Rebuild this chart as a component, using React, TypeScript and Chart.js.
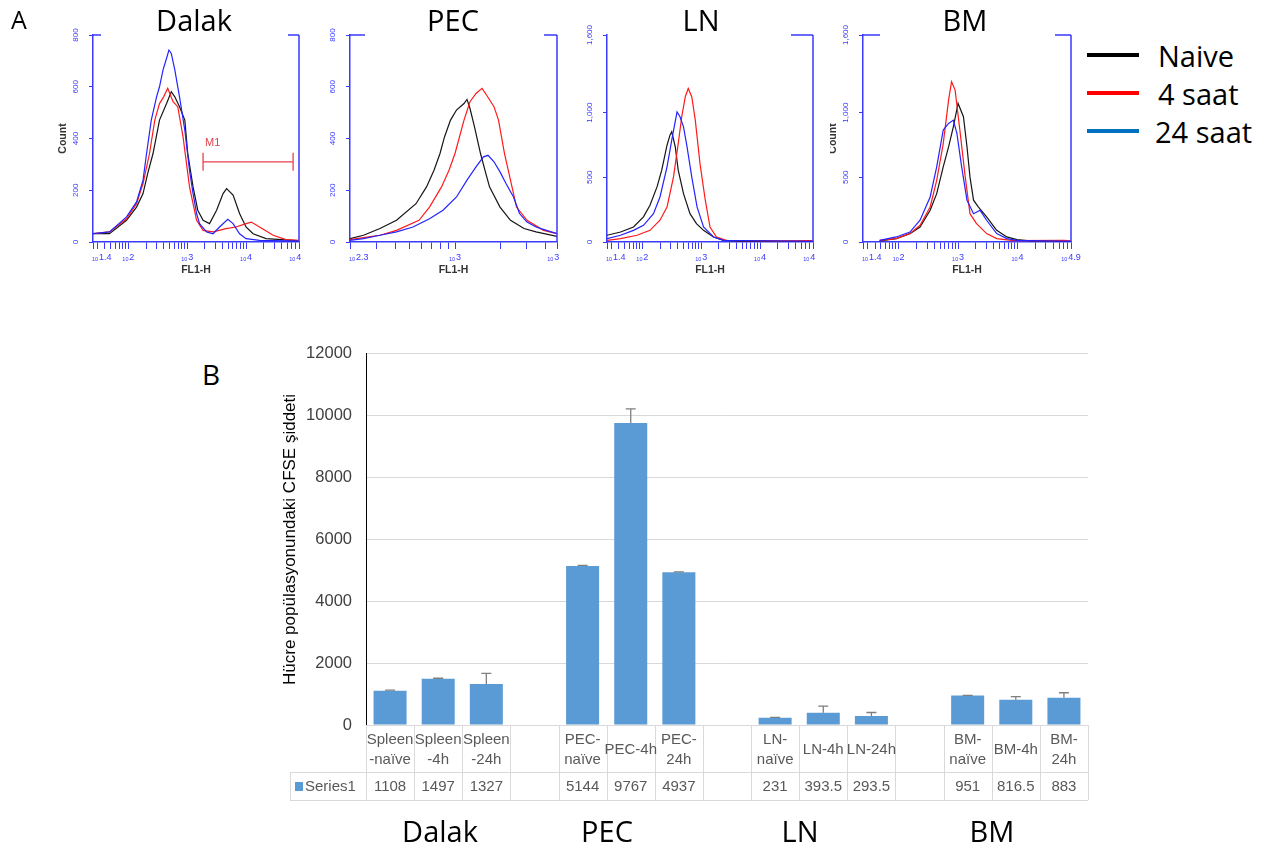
import React, { useEffect, useRef } from "react";
import { Chart, registerables } from "chart.js";

Chart.register(...registerables);

type Pt = [number, number];

// ---------- Panel A: histograms (x = log10 FL1-H, y = count) ----------
const dalakNaive: Pt[] = [[1.40,32],[1.68,32],[1.97,84],[2.14,135],[2.25,187],[2.33,265],[2.42,342],[2.53,471],[2.65,535],[2.73,581],[2.79,561],[2.87,523],[2.96,471],[3.01,342],[3.10,213],[3.18,123],[3.27,84],[3.38,71],[3.50,123],[3.61,187],[3.67,206],[3.78,181],[3.89,110],[4.00,58],[4.12,32],[4.34,13],[4.80,6],[4.90,4]];
const dalak4h: Pt[] = [[1.40,32],[1.68,39],[1.97,90],[2.14,148],[2.25,226],[2.36,342],[2.45,471],[2.53,535],[2.60,561],[2.67,594],[2.76,542],[2.84,523],[2.93,406],[3.04,213],[3.16,84],[3.27,45],[3.44,39],[3.66,52],[3.83,58],[4.00,71],[4.09,77],[4.23,58],[4.46,26],[4.68,9],[4.90,6]];
const dalak24h: Pt[] = [[1.40,32],[1.68,39],[1.97,97],[2.14,155],[2.25,239],[2.31,342],[2.39,471],[2.48,561],[2.53,600],[2.59,665],[2.65,710],[2.69,742],[2.73,729],[2.79,665],[2.87,561],[2.96,432],[3.04,277],[3.10,187],[3.16,110],[3.21,71],[3.33,39],[3.44,32],[3.55,58],[3.69,88],[3.78,71],[3.89,32],[4.00,13],[4.23,6],[4.90,3]];
const dalakM1 = [3.27, 4.80, 310];

const pecNaive: Pt[] = [[2.30,13],[2.39,26],[2.50,52],[2.61,84],[2.74,148],[2.81,213],[2.86,277],[2.90,342],[2.93,406],[2.97,471],[3.01,510],[3.06,535],[3.08,551],[3.10,516],[3.13,445],[3.17,342],[3.20,277],[3.23,213],[3.30,135],[3.37,84],[3.46,52],[3.54,39],[3.68,22]];
const pec4h: Pt[] = [[2.30,9],[2.39,17],[2.50,26],[2.61,45],[2.76,84],[2.83,135],[2.91,213],[2.96,277],[3.00,342],[3.06,471],[3.10,542],[3.14,574],[3.18,594],[3.21,568],[3.26,523],[3.29,471],[3.33,342],[3.38,213],[3.41,135],[3.48,84],[3.59,45],[3.68,32]];
const pec24h: Pt[] = [[2.30,6],[2.39,13],[2.50,26],[2.61,39],[2.72,58],[2.83,90],[2.92,123],[3.01,174],[3.08,239],[3.14,290],[3.19,329],[3.22,335],[3.26,310],[3.30,271],[3.34,226],[3.39,174],[3.43,110],[3.48,77],[3.54,58],[3.61,45],[3.68,32]];

const lnNaive: Pt[] = [[1.40,52],[1.63,77],[1.85,116],[2.02,194],[2.13,284],[2.25,426],[2.33,555],[2.42,748],[2.47,826],[2.50,852],[2.56,735],[2.61,555],[2.70,374],[2.81,219],[2.92,142],[3.04,90],[3.21,39],[3.38,13],[3.77,5],[4.90,5]];
const ln4h: Pt[] = [[1.40,13],[1.63,26],[1.91,52],[2.13,90],[2.30,168],[2.42,271],[2.53,503],[2.61,761],[2.67,968],[2.73,1123],[2.78,1187],[2.84,1123],[2.90,942],[2.98,606],[3.07,323],[3.15,116],[3.26,39],[3.43,13],[4.34,8],[4.90,10]];
const ln24h: Pt[] = [[1.40,26],[1.63,52],[1.85,90],[2.02,129],[2.19,219],[2.30,348],[2.42,581],[2.50,787],[2.59,1006],[2.64,968],[2.70,890],[2.76,735],[2.84,503],[2.93,271],[3.04,116],[3.21,39],[3.38,13],[4.90,5]];

const bmNaive: Pt[] = [[1.68,8],[1.96,26],[2.19,65],[2.36,116],[2.53,245],[2.64,374],[2.75,581],[2.84,735],[2.92,890],[3.00,1071],[3.09,968],[3.15,735],[3.20,503],[3.26,323],[3.34,271],[3.48,194],[3.65,90],[3.82,39],[3.99,18],[4.21,8],[4.90,5]];
const bm4h: Pt[] = [[1.68,13],[1.96,26],[2.19,65],[2.36,129],[2.53,271],[2.64,477],[2.75,761],[2.84,1097],[2.89,1239],[2.95,1174],[3.03,865],[3.12,503],[3.20,219],[3.31,142],[3.48,65],[3.65,26],[3.93,10],[4.78,13],[4.90,8]];
const bm24h: Pt[] = [[1.68,13],[1.96,39],[2.19,77],[2.36,168],[2.53,348],[2.64,581],[2.75,865],[2.84,916],[2.92,942],[2.98,839],[3.06,581],[3.15,323],[3.26,219],[3.37,245],[3.48,168],[3.65,65],[3.82,26],[3.99,13],[4.90,5]];

const histTitles = ["Dalak", "PEC", "LN", "BM"];
const countTicksSmall = [0, 200, 400, 600, 800];
const countLabelsSmall = ["0", "200", "400", "600", "800"];
const countTicksLarge = [0, 500, 1000, 1600];
const countLabelsLarge = ["0", "500", "1,000", "1,600"];
const wideXLabels: [number, string][] = [[1.4, "1.4"], [2, "2"], [3, "3"], [4, "4"], [4.9, "4.9"]];
const pecXLabels: [number, string][] = [[2.3, "2.3"], [3, "3"], [3.68, "3.7"]];

const legendLabels = ["Naive", "4 saat", "24 saat"];
const legendColors = ["#000000", "#ff0000", "#0070c0"];
const curveColors = ["#151515", "#ff1a1a", "#2323ff"]; // naive, 4h, 24h

// ---------- Panel B: bar chart ----------
const barCategories: string[][] = [
  ["Spleen", "-naïve"], ["Spleen", "-4h"], ["Spleen", "-24h"], [""],
  ["PEC-", "naïve"], ["PEC-4h"], ["PEC-", "24h"], [""],
  ["LN-", "naïve"], ["LN-4h"], ["LN-24h"], [""],
  ["BM-", "naïve"], ["BM-4h"], ["BM-", "24h"],
];
const barValues: (number | null)[] = [1108, 1497, 1327, null, 5144, 9767, 4937, null, 231, 393.5, 293.5, null, 951, 816.5, 883];
const barErrors: (number | null)[] = [20, 15, 340, null, 20, 455, 15, null, 15, 220, 110, null, 10, 100, 160];
const barValueLabels = ["1108", "1497", "1327", "", "5144", "9767", "4937", "", "231", "393.5", "293.5", "", "951", "816.5", "883"];
const seriesName = "Series1";
const yAxisTitle = "Hücre popülasyonundaki CFSE şiddeti";
const groupLabels = ["Dalak", "PEC", "LN", "BM"];

const AXIS_BLUE = "#3a3aff";
const SANS = '"Liberation Sans", Arial, sans-serif';
const OPEN = '"Open Sans", "Liberation Sans", sans-serif';
const BAR_BLUE = "#5b9bd5";

const H_CANVAS = 285;
const PLOT_TOP = 35;
const PLOT_BOTTOM = 242;

function logTicks(min: number, max: number): number[] {
  const out = [min];
  for (let n = 1; n <= 4; n++) {
    for (let k = 1; k <= 9; k++) {
      const v = n + Math.log10(k);
      if (v > min + 0.01 && v < max - 0.01) out.push(v);
    }
  }
  out.push(max);
  return out;
}

interface HistProps {
  left: number;
  width: number;
  plotLeft: number;
  plotRight: number;
  xMin: number;
  xMax: number;
  xLabels: [number, string][];
  yMax: number;
  yTicks: number[];
  yLabels: string[];
  series: Pt[][]; // naive, 4h, 24h
  topLeft: number;
  topRight: number;
  marker?: number[];
}

function Histogram(p: HistProps) {
  const ref = useRef<HTMLCanvasElement>(null);
  useEffect(() => {
    const canvas = ref.current!;
    const deco = {
      id: "histDeco",
      afterDraw(chart: any) {
        const { ctx, chartArea: ca, scales } = chart;
        const x = scales.x;
        const y = scales.y;
        ctx.save();
        ctx.strokeStyle = AXIS_BLUE;
        ctx.lineWidth = 1.5;
        ctx.beginPath();
        ctx.moveTo(ca.right, ca.top);
        ctx.lineTo(ca.right, ca.bottom);
        if (p.topLeft > 0) {
          ctx.moveTo(ca.left, ca.top);
          ctx.lineTo(ca.left + p.topLeft, ca.top);
        }
        ctx.moveTo(ca.right - p.topRight, ca.top);
        ctx.lineTo(ca.right, ca.top);
        ctx.stroke();

        // y tick labels (rotated)
        ctx.fillStyle = AXIS_BLUE;
        ctx.font = `8px ${SANS}`;
        ctx.textAlign = "center";
        ctx.textBaseline = "middle";
        p.yTicks.forEach((v, i) => {
          const py = y.getPixelForValue(v);
          ctx.save();
          ctx.translate(ca.left - 17.5, py);
          ctx.rotate(-Math.PI / 2);
          ctx.fillText(p.yLabels[i], 0, 0);
          ctx.restore();
        });

        // x tick labels 10^e
        ctx.textAlign = "left";
        ctx.textBaseline = "alphabetic";
        const baseY = ca.bottom + 18;
        p.xLabels.forEach(([v, e], i) => {
          const px = x.getPixelForValue(v);
          ctx.font = `5.5px ${SANS}`;
          const w10 = ctx.measureText("10").width;
          ctx.font = `9px ${SANS}`;
          const we = ctx.measureText(e).width;
          const total = w10 + 0.8 + we;
          const start = i === 0 ? px - 1 : px - total / 2;
          ctx.font = `5.5px ${SANS}`;
          ctx.fillText("10", start, baseY + 1);
          ctx.font = `9px ${SANS}`;
          ctx.fillText(e, start + w10 + 0.8, baseY);
        });

        // axis titles
        ctx.fillStyle = "#333333";
        ctx.font = `bold 10.5px ${SANS}`;
        ctx.textAlign = "center";
        ctx.textBaseline = "middle";
        ctx.fillText("FL1-H", (ca.left + ca.right) / 2, ca.bottom + 28);
        ctx.save();
        ctx.translate(ca.left - 30, (ca.top + ca.bottom) / 2);
        ctx.rotate(-Math.PI / 2);
        ctx.fillText("Count", 0, 0);
        ctx.restore();

        // marker M1
        if (p.marker) {
          const [a, b, c] = p.marker;
          const xa = x.getPixelForValue(a);
          const xb = x.getPixelForValue(b);
          const yc = y.getPixelForValue(c);
          ctx.strokeStyle = "#e8404f";
          ctx.lineWidth = 1.3;
          ctx.beginPath();
          ctx.moveTo(xa, yc);
          ctx.lineTo(xb, yc);
          ctx.moveTo(xa, yc - 9);
          ctx.lineTo(xa, yc + 9);
          ctx.moveTo(xb, yc - 9);
          ctx.lineTo(xb, yc + 9);
          ctx.stroke();
          ctx.fillStyle = "#e8404f";
          ctx.font = `11px ${SANS}`;
          ctx.textAlign = "left";
          ctx.textBaseline = "alphabetic";
          ctx.fillText("M1", xa + 2, yc - 16);
        }
        ctx.restore();
      },
    };

    const order = [2, 1, 0];
    const chart = new Chart(canvas, {
      type: "line",
      data: {
        datasets: order.map((i) => ({
          data: p.series[i].map(([xx, yy]) => ({ x: xx, y: yy })),
          borderColor: curveColors[i],
          borderWidth: 1.2,
          pointRadius: 0,
          tension: 0,
          fill: false,
        })),
      },
      options: {
        responsive: false,
        animation: false,
        events: [],
        layout: { padding: { top: PLOT_TOP, right: p.left + p.width - p.plotRight, left: 0, bottom: 0 } },
        plugins: { legend: { display: false }, tooltip: { enabled: false } },
        scales: {
          x: {
            type: "linear",
            min: p.xMin,
            max: p.xMax,
            afterBuildTicks: (s: any) => {
              s.ticks = logTicks(p.xMin, p.xMax).map((v) => ({ value: v }));
            },
            afterFit: (s: any) => {
              s.height = H_CANVAS - PLOT_BOTTOM;
            },
            ticks: { display: false },
            grid: { display: true, drawOnChartArea: false, drawTicks: true, tickLength: 7, color: AXIS_BLUE, lineWidth: 1 },
            border: { display: true, color: AXIS_BLUE, width: 1.5 },
          },
          y: {
            type: "linear",
            min: 0,
            max: p.yMax,
            afterBuildTicks: (s: any) => {
              s.ticks = p.yTicks.map((v) => ({ value: v }));
            },
            afterFit: (s: any) => {
              s.width = p.plotLeft - p.left;
            },
            ticks: { display: false },
            grid: { display: true, drawOnChartArea: false, drawTicks: true, tickLength: 4, color: AXIS_BLUE, lineWidth: 1 },
            border: { display: true, color: AXIS_BLUE, width: 1.5 },
          },
        },
      } as any,
      plugins: [deco],
    });
    return () => chart.destroy();
  }, []);
  return (
    <canvas
      ref={ref}
      width={p.width}
      height={H_CANVAS}
      style={{ position: "absolute", left: p.left, top: 0, width: p.width, height: H_CANVAS }}
    />
  );
}

function BarPanel() {
  const ref = useRef<HTMLCanvasElement>(null);
  useEffect(() => {
    const canvas = ref.current!;
    const deco = {
      id: "barDeco",
      afterDatasetsDraw(chart: any) {
        const { ctx, scales } = chart;
        const x = scales.x;
        const y = scales.y;
        ctx.save();
        ctx.strokeStyle = "#7f7f7f";
        ctx.lineWidth = 1.3;
        barValues.forEach((v, i) => {
          const e = barErrors[i];
          if (v == null || e == null) return;
          const px = x.getPixelForValue(i);
          const y0 = y.getPixelForValue(v);
          const y1 = y.getPixelForValue(v + e);
          ctx.beginPath();
          ctx.moveTo(px, y0);
          ctx.lineTo(px, y1);
          ctx.moveTo(px - 5, y1);
          ctx.lineTo(px + 5, y1);
          ctx.stroke();
        });
        ctx.restore();
      },
      afterDraw(chart: any) {
        const { ctx, chartArea: ca, scales } = chart;
        const x = scales.x;
        const n = barCategories.length;
        const step = (ca.right - ca.left) / n;
        const r1Top = ca.bottom;
        const r1Bot = ca.bottom + 47;
        const r2Bot = ca.bottom + 75;
        const legLeft = ca.left - 76;
        ctx.save();
        ctx.strokeStyle = "#d9d9d9";
        ctx.lineWidth = 1;
        ctx.beginPath();
        for (let i = 0; i <= n; i++) {
          const xx = Math.round(ca.left + i * step) + 0.5;
          ctx.moveTo(xx, r1Top);
          ctx.lineTo(xx, r2Bot);
        }
        ctx.moveTo(legLeft + 0.5, r1Bot);
        ctx.lineTo(legLeft + 0.5, r2Bot);
        ctx.moveTo(legLeft, r1Bot + 0.5);
        ctx.lineTo(ca.right, r1Bot + 0.5);
        ctx.moveTo(legLeft, r2Bot + 0.5);
        ctx.lineTo(ca.right, r2Bot + 0.5);
        ctx.stroke();

        ctx.fillStyle = "#595959";
        ctx.font = `15px ${SANS}`;
        ctx.textAlign = "center";
        ctx.textBaseline = "middle";
        barCategories.forEach((lines, i) => {
          const px = x.getPixelForValue(i);
          if (lines.length === 2) {
            ctx.fillText(lines[0], px, r1Top + 15);
            ctx.fillText(lines[1], px, r1Top + 35);
          } else {
            ctx.fillText(lines[0], px, r1Top + 25);
          }
          ctx.fillText(barValueLabels[i], px, r1Bot + 15);
        });
        ctx.fillStyle = BAR_BLUE;
        ctx.fillRect(legLeft + 5, r1Bot + 10, 8, 9);
        ctx.fillStyle = "#595959";
        ctx.textAlign = "left";
        ctx.fillText(seriesName, legLeft + 15, r1Bot + 15);
        ctx.restore();
      },
    };

    const chart = new Chart(canvas, {
      type: "bar",
      data: {
        labels: barCategories,
        datasets: [
          {
            data: barValues,
            backgroundColor: BAR_BLUE,
            borderWidth: 0,
            barPercentage: 0.686,
            categoryPercentage: 1,
          },
        ],
      },
      options: {
        responsive: false,
        animation: false,
        events: [],
        layout: { padding: { top: 19, right: 12, left: 0, bottom: 0 } },
        plugins: { legend: { display: false }, tooltip: { enabled: false } },
        scales: {
          x: {
            type: "category",
            ticks: { display: false },
            grid: { display: false },
            border: { display: true, color: "#d9d9d9", width: 1 },
            afterFit: (s: any) => {
              s.height = 124;
            },
          },
          y: {
            min: 0,
            max: 12000,
            ticks: {
              stepSize: 2000,
              color: "#404040",
              font: { family: SANS, size: 16.5 },
              padding: 14,
              callback: (v: any) => String(v),
            },
            grid: { color: "#d9d9d9", lineWidth: 1, drawTicks: false },
            border: { display: true, color: "#000000", width: 1 },
            title: {
              display: true,
              text: yAxisTitle,
              color: "#000000",
              font: { family: SANS, size: 17 },
              padding: 0,
            },
            afterFit: (s: any) => {
              s.width = 86;
            },
          },
        },
      } as any,
      plugins: [deco],
    });
    return () => chart.destroy();
  }, []);
  return (
    <canvas
      ref={ref}
      width={820}
      height={519}
      style={{ position: "absolute", left: 280, top: 330, width: 820, height: 519 }}
    />
  );
}

function Label(props: { text: string; cx: number; cy: number; size: number; left?: boolean }) {
  return (
    <div
      style={{
        position: "absolute",
        left: props.cx,
        top: props.cy,
        transform: props.left ? "translate(0,-50%)" : "translate(-50%,-50%)",
        fontFamily: OPEN,
        fontSize: props.size,
        lineHeight: 1,
        whiteSpace: "nowrap",
        color: "#000",
      }}
    >
      {props.text}
    </div>
  );
}

export default function App() {
  const titleX = [194, 453, 701, 965];
  const legendY = [55, 93, 131];
  const groupX = [440, 607, 800, 992];
  return (
    <div style={{ position: "absolute", left: 0, top: 0, width: 1275, height: 849, background: "#fff", overflow: "hidden" }}>
      <Histogram left={40} width={262} plotLeft={93} plotRight={299} xMin={1.4} xMax={4.9} xLabels={wideXLabels}
        yMax={800} yTicks={countTicksSmall} yLabels={countLabelsSmall} series={[dalakNaive, dalak4h, dalak24h]}
        topLeft={8} topRight={11} marker={dalakM1} />
      <Histogram left={330} width={230} plotLeft={350} plotRight={557} xMin={2.3} xMax={3.68} xLabels={pecXLabels}
        yMax={800} yTicks={countTicksSmall} yLabels={countLabelsSmall} series={[pecNaive, pec4h, pec24h]}
        topLeft={15} topRight={13} />
      <Histogram left={580} width={236} plotLeft={607} plotRight={813} xMin={1.4} xMax={4.9} xLabels={wideXLabels}
        yMax={1600} yTicks={countTicksLarge} yLabels={countLabelsLarge} series={[lnNaive, ln4h, ln24h]}
        topLeft={0} topRight={22} />
      <Histogram left={830} width={255} plotLeft={863} plotRight={1071} xMin={1.4} xMax={4.9} xLabels={wideXLabels}
        yMax={1600} yTicks={countTicksLarge} yLabels={countLabelsLarge} series={[bmNaive, bm4h, bm24h]}
        topLeft={17} topRight={16} />
      {histTitles.map((t, i) => (
        <Label key={t} text={t} cx={titleX[i]} cy={19} size={29} />
      ))}
      <Label text="A" cx={19} cy={19} size={25} />
      {legendLabels.map((t, i) => (
        <React.Fragment key={t}>
          <div style={{ position: "absolute", left: 1087, top: legendY[i] - 2, width: 52, height: 4, background: legendColors[i] }} />
          <Label text={t} cx={i === 2 ? 1155 : 1158} cy={legendY[i]} size={29} left />
        </React.Fragment>
      ))}
      <BarPanel />
      <Label text="B" cx={211} cy={374} size={28} />
      {groupLabels.map((t, i) => (
        <Label key={t + "g"} text={t} cx={groupX[i]} cy={830} size={29} />
      ))}
    </div>
  );
}
